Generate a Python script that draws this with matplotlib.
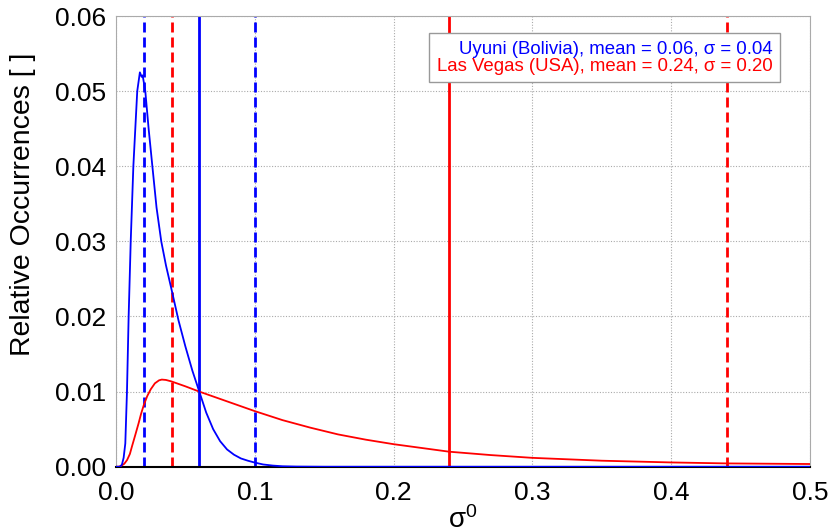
import matplotlib
matplotlib.use("Agg")
import matplotlib.pyplot as plt
from matplotlib.lines import Line2D

plt.rcParams['font.family'] = ['Liberation Sans', 'DejaVu Sans']

# Relative occurrence distributions of sigma0
uyuni_x = [0.000, 0.0030, 0.0043, 0.0055, 0.0067, 0.0079, 0.0091, 0.0106, 0.0125,
           0.0153, 0.0172, 0.0185, 0.0192, 0.0211, 0.0235, 0.0262, 0.0292, 0.0326,
           0.0360, 0.0400, 0.0450, 0.0500, 0.0550, 0.0600, 0.0650, 0.0700, 0.0750,
           0.0800, 0.0850, 0.0900, 0.0950, 0.1000, 0.1060, 0.1130, 0.1200, 0.1300,
           0.1500, 0.2000, 0.3000, 0.4000, 0.5000]
uyuni_y = [0.0, 0.0, 0.0003, 0.0012, 0.0031, 0.0100, 0.0200, 0.0300, 0.0400,
           0.0500, 0.0525, 0.0519, 0.0521, 0.0500, 0.0450, 0.0400, 0.0345, 0.0300,
           0.0268, 0.0236, 0.0195, 0.0160, 0.0128, 0.0100, 0.0072, 0.0050, 0.0034,
           0.0023, 0.0016, 0.0011, 0.0008, 0.00055, 0.0003, 0.00015, 0.00006, 0.00002,
           0.0, 0.0, 0.0, 0.0, 0.0]

vegas_x = [0.000, 0.0020, 0.0040, 0.0060, 0.0080, 0.0100, 0.0115, 0.0140, 0.0163,
           0.0180, 0.0200, 0.0225, 0.0250, 0.0280, 0.0310, 0.0330, 0.0360, 0.0400,
           0.0500, 0.0600, 0.0800, 0.1000, 0.1200, 0.1400, 0.1600, 0.1800, 0.2000,
           0.2400, 0.2700, 0.3000, 0.3500, 0.4000, 0.4400, 0.5000]
vegas_y = [0.0, 0.0, 0.00015, 0.0004, 0.0009, 0.0017, 0.0027, 0.0043, 0.0058,
           0.0070, 0.0082, 0.0094, 0.0103, 0.0111, 0.0115, 0.0116, 0.01155, 0.01135,
           0.0107, 0.0100, 0.0087, 0.0074, 0.0062, 0.0052, 0.0043, 0.0036, 0.0030,
           0.0020, 0.00155, 0.00118, 0.0008, 0.00057, 0.00044, 0.00036]

uyuni_mean, uyuni_std = 0.06, 0.04
vegas_mean, vegas_std = 0.24, 0.20

legend_labels = ["Uyuni (Bolivia), mean = 0.06, σ = 0.04",
                 "Las Vegas (USA), mean = 0.24, σ = 0.20"]

x_ticks = [0.0, 0.1, 0.2, 0.3, 0.4, 0.5]
x_ticklabels = ["0.0", "0.1", "0.2", "0.3", "0.4", "0.5"]
y_ticks = [0.00, 0.01, 0.02, 0.03, 0.04, 0.05, 0.06]
y_ticklabels = ["0.00", "0.01", "0.02", "0.03", "0.04", "0.05", "0.06"]

BLUE = "#0000ff"
RED = "#ff0000"

fig = plt.figure(figsize=(8.31, 5.30), dpi=100)
ax = fig.add_axes([0.1396, 0.1194, 0.8351, 0.8504])

ax.set_xlim(0, 0.5)
ax.set_ylim(0, 0.06)

ax.grid(True, color="#aaaaaa", linestyle=(0, (1, 1.5)), linewidth=0.8)
ax.set_axisbelow(True)
for side in ("top", "left", "right"):
    ax.spines[side].set_color("#aaaaaa")
    ax.spines[side].set_linewidth(0.8)
ax.spines["bottom"].set_color("black")
ax.spines["bottom"].set_linewidth(1.5)

dash = (0, (3.6, 1.8))
for mean, std, col in ((uyuni_mean, uyuni_std, BLUE), (vegas_mean, vegas_std, RED)):
    ax.axvline(mean, color=col, linewidth=2.0)
    ax.axvline(mean - std, color=col, linewidth=2.0, linestyle=dash)
    ax.axvline(mean + std, color=col, linewidth=2.0, linestyle=dash)

ax.plot(vegas_x, vegas_y, color=RED, linewidth=1.3, zorder=4)
ax.plot(uyuni_x, uyuni_y, color=BLUE, linewidth=1.3, zorder=4)

ax.set_xticks(x_ticks)
ax.set_xticklabels(x_ticklabels)
ax.set_yticks(y_ticks)
ax.set_yticklabels(y_ticklabels)
ax.tick_params(axis="both", length=0, labelsize=19)
ax.tick_params(axis="x", pad=10)
ax.tick_params(axis="y", pad=7)

ax.set_ylabel("Relative Occurrences [ ]", fontsize=20.4)
ax.yaxis.label.set_va("center")
ax.yaxis.set_label_coords(-0.134, 0.583)

ax.set_xlabel(r"$\mathregular{σ^0}$", fontsize=20, labelpad=1)

handles = [Line2D([], [], linestyle="none") for _ in legend_labels]
leg = ax.legend(handles, legend_labels, loc="upper right",
                bbox_to_anchor=(0.957, 0.962), borderaxespad=0,
                handlelength=0, handletextpad=0, markerfirst=False,
                labelcolor=[BLUE, RED], fontsize=13.4, fancybox=False,
                framealpha=1, edgecolor="#999999", labelspacing=0.0,
                borderpad=0.4)
leg.get_frame().set_linewidth(1.0)

fig.savefig("out.png", dpi=100)
